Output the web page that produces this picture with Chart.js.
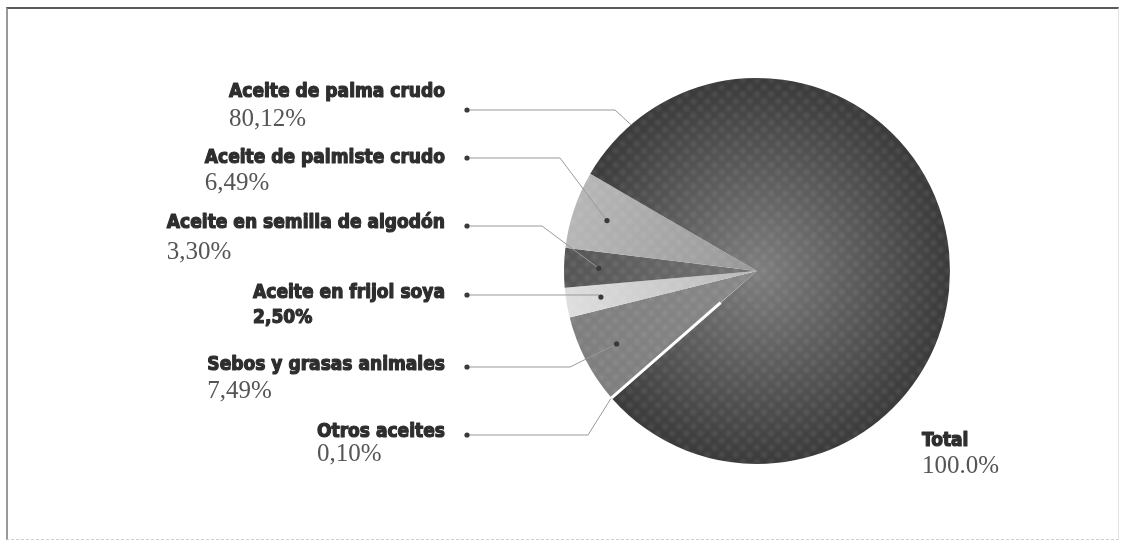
<!DOCTYPE html>
<html>
<head>
<meta charset="utf-8">
<script src="https://cdn.jsdelivr.net/npm/chart.js@4.4.1/dist/chart.umd.min.js"></script>
<style>
    html, body { margin: 0; padding: 0; background: #fff; }
    #wrap { position: relative; width: 1121px; height: 546px; }
    #frame {
        position: absolute; left: 6px; top: 7px; width: 1110px; height: 530px;
        border-top: 2px solid #5a5a5a; border-left: 2px solid #999;
        border-right: 1px solid #e4e4e4; border-bottom: 1px dashed #cfcfcf;
        pointer-events: none;
    }
</style>
</head>
<body>
<div id="wrap">
    <canvas id="pieChart" width="1121" height="546"></canvas>
    <div id="frame"></div>
</div>
<script>
// values
var categories = ['Aceite de palma crudo', 'Aceite de palmiste crudo', 'Aceite en semilla de algodón',
    'Aceite en frijol soya', 'Sebos y grasas animales', 'Otros aceites'];
var shares = [80.12, 6.49, 3.30, 2.50, 7.49, 0.10];
var shareLabels = ['80,12%', '6,49%', '3,30%', '2,50%', '7,49%', '0,10%'];
var totalLabels = ['Total', '100.0%'];

(function () {
    // label layout (style only)
    var titleRight = 445;
    var titleY = [97, 163, 228, 298, 370, 437];
    var valueY = [126, 190, 259, 323, 398, 461];
    var dotY = [110, 158, 226, 295, 367, 435];
    var bendX = [615, 560, 542, 599, 570, 588];
    var inner = ['#7e7e7e', '#979797', '#747474', '#b8b8b8', '#888888', '#ffffff'];
    var outer = ['#3a3a3a', '#b6b6b6', '#555555', '#dedede', '#7e7e7e', '#ffffff'];
    var titleFont = 'bold 20px "DejaVu Sans Condensed", "DejaVu Sans", sans-serif';
    var valueFont = '25px "Liberation Serif", serif';
    var squeeze = 0.95;

    // pie is drawn clockwise, legend order runs counter-clockwise
    var order = categories.map(function (c, i) { return i; }).reverse();

    function shade(ctx) {
        var chart = ctx.chart, a = chart.chartArea;
        var k = order[ctx.dataIndex];
        if (!a) { return outer[k]; }
        var cx = (a.left + a.right) / 2, cy = (a.top + a.bottom) / 2;
        var r = Math.min(a.width, a.height) / 2;
        var g = chart.ctx.createRadialGradient(cx, cy, 0, cx, cy, r);
        g.addColorStop(0, inner[k]);
        g.addColorStop(1, outer[k]);
        return g;
    }

    // heavy condensed title text
    function heavyText(ctx, text, xRight, y) {
        ctx.save();
        ctx.font = titleFont;
        ctx.fillStyle = '#2e2e2e';
        ctx.strokeStyle = '#2e2e2e';
        ctx.lineWidth = 1.2;
        ctx.lineJoin = 'round';
        ctx.textAlign = 'left';
        var w = ctx.measureText(text).width * squeeze;
        ctx.translate(xRight - w, y);
        ctx.scale(squeeze, 1);
        ctx.fillText(text, 0, 0);
        ctx.strokeText(text, 0, 0);
        ctx.restore();
        return xRight - w;
    }

    function grain(ctx) {
        var c = document.createElement('canvas');
        c.width = 10; c.height = 10;
        var g = c.getContext('2d');
        var rg = g.createRadialGradient(5, 5, 0, 5, 5, 5);
        rg.addColorStop(0, 'rgba(255,255,255,0.9)');
        rg.addColorStop(1, 'rgba(255,255,255,0)');
        g.fillStyle = rg;
        g.fillRect(0, 0, 10, 10);
        return ctx.createPattern(c, 'repeat');
    }

    var labelsPlugin = {
        id: 'sideLabels',
        afterDatasetsDraw: function (chart) {
            var meta = chart.getDatasetMeta(0);
            var ctx = chart.ctx;
            var p0 = meta.data[0].getProps(['x', 'y', 'outerRadius']);
            // mottled print texture
            ctx.save();
            ctx.beginPath();
            ctx.arc(p0.x, p0.y, p0.outerRadius, 0, Math.PI * 2);
            ctx.clip();
            ctx.globalAlpha = 0.1;
            ctx.translate(p0.x, p0.y);
            ctx.rotate(Math.PI / 4);
            ctx.fillStyle = grain(ctx);
            ctx.fillRect(-p0.outerRadius * 1.5, -p0.outerRadius * 1.5, p0.outerRadius * 3, p0.outerRadius * 3);
            ctx.restore();

            // white sliver of "Otros aceites" on top of its neighbours
            var el = meta.data[order.indexOf(5)];
            ctx.save();
            var p = el.getProps(['x', 'y', 'startAngle', 'endAngle', 'outerRadius']);
            var m = (p.startAngle + p.endAngle) / 2;
            ctx.strokeStyle = '#fff';
            ctx.lineWidth = 3;
            ctx.beginPath();
            ctx.moveTo(p.x + Math.cos(m) * p.outerRadius * 0.25, p.y + Math.sin(m) * p.outerRadius * 0.25);
            ctx.lineTo(p.x + Math.cos(m) * p.outerRadius, p.y + Math.sin(m) * p.outerRadius);
            ctx.stroke();
            ctx.restore();
        },
        afterDraw: function (chart) {
            var ctx = chart.ctx;
            var meta = chart.getDatasetMeta(0);
            ctx.save();
            categories.forEach(function (name, i) {
                var left = heavyText(ctx, name, titleRight, titleY[i]);
                if (i === 3) {
                    var vw = 0;
                    ctx.font = titleFont;
                    vw = ctx.measureText(shareLabels[i]).width * squeeze;
                    heavyText(ctx, shareLabels[i], left + vw, valueY[i]);
                } else {
                    ctx.font = valueFont;
                    ctx.fillStyle = '#555';
                    ctx.textAlign = 'left';
                    ctx.fillText(shareLabels[i], left, valueY[i]);
                }

                // leader line
                var p = meta.data[order.indexOf(i)].getProps(['x', 'y', 'startAngle', 'endAngle', 'outerRadius']);
                var ang, rad, endDot = true;
                if (i === 0) {
                    ang = p.startAngle + 19 * Math.PI / 180; rad = p.outerRadius; endDot = false;
                } else if (i === 5) {
                    ang = (p.startAngle + p.endAngle) / 2; rad = p.outerRadius + 1; endDot = false;
                } else {
                    ang = (p.startAngle + p.endAngle) / 2; rad = p.outerRadius * 0.82;
                }
                var ex = p.x + Math.cos(ang) * rad, ey = p.y + Math.sin(ang) * rad;
                ctx.strokeStyle = '#999';
                ctx.lineWidth = 1;
                ctx.beginPath();
                ctx.moveTo(467, dotY[i]);
                ctx.lineTo(bendX[i], dotY[i]);
                ctx.lineTo(ex, ey);
                ctx.stroke();
                ctx.fillStyle = '#3a3a3a';
                ctx.beginPath();
                ctx.arc(467, dotY[i], 2.6, 0, Math.PI * 2);
                ctx.fill();
                if (endDot) {
                    ctx.beginPath();
                    ctx.arc(ex, ey, 2.6, 0, Math.PI * 2);
                    ctx.fill();
                }
            });
            ctx.font = titleFont;
            var tw = ctx.measureText(totalLabels[0]).width * squeeze;
            heavyText(ctx, totalLabels[0], 922 + tw, 446);
            ctx.textAlign = 'left';
            ctx.font = valueFont;
            ctx.fillStyle = '#555';
            ctx.fillText(totalLabels[1], 922, 473);
            ctx.restore();
        }
    };

    var ctx = document.getElementById('pieChart');
    if (!ctx || !window.Chart) {
        return;
    }
    new Chart(ctx, {
        type: 'pie',
        data: {
            labels: order.map(function (i) { return categories[i]; }),
            datasets: [{
                data: order.map(function (i) { return shares[i]; }),
                backgroundColor: shade,
                borderWidth: 0
            }]
        },
        options: {
            responsive: false,
            animation: false,
            rotation: 228.7,
            layout: { padding: { left: 564, right: 171, top: 78, bottom: 82 } },
            plugins: { legend: { display: false }, tooltip: { enabled: false } }
        },
        plugins: [labelsPlugin]
    });
})();
</script>
</body>
</html>
